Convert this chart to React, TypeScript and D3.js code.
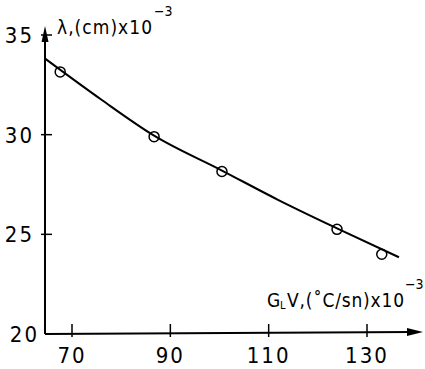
import React from 'react';
import * as d3 from 'd3';

// measured points (G_L V x 10^-3, lambda x 10^-3 cm)
const pointsX = [67.6, 86.7, 100.5, 123.9, 133.0];
const pointsY = [33.15, 29.9, 28.15, 25.25, 24.0];

// fitted curve
const curveX = [64.6, 76, 86.7, 100.5, 112, 123.9, 136.5];
const curveY = [33.8, 31.75, 29.95, 28.2, 26.72, 25.3, 23.85];

const xTicks = [70, 90, 110, 130];
const yTicks = [20, 25, 30, 35];

const font = "'Liberation Sans Narrow', 'DejaVu Sans Condensed', sans-serif";

export default function App() {
  const width = 425;
  const height = 369;

  const x = d3.scaleLinear().domain([70, 130]).range([72, 367]);
  const y = d3.scaleLinear().domain([20, 35]).range([334, 35]);

  const x0 = 45; // y axis position
  const y0 = y(20); // x axis position

  const line = d3.line<[number, number]>()
    .x(d => x(d[0]))
    .y(d => y(d[1]))
    .curve(d3.curveMonotoneX);

  const curve = curveX.map((v, i) => [v, curveY[i]] as [number, number]);

  return (
    <svg width={width} height={height} style={{ position: 'absolute', left: 0, top: 0, background: '#fff' }}>
      {/* axes */}
      <line x1={x0} y1={y0} x2={x0} y2={36} stroke="#000" strokeWidth={2} />
      <path d={`M${x0},26 L${x0 - 3.5},42 L${x0 + 3.5},42 Z`} fill="#000" />
      <line x1={x0} y1={y0} x2={412} y2={y0 - 2} stroke="#000" strokeWidth={2} />
      <path d={`M423,${y0 - 2} L407,${y0 - 6} L407,${y0 + 2} Z`} fill="#000" />

      {/* y ticks */}
      {yTicks.map(t => (
        <g key={t}>
          {t !== 20 && <line x1={x0 - 4} x2={x0 + 7} y1={y(t)} y2={y(t)} stroke="#000" strokeWidth={1.5} />}
          <text x={t === 20 ? 39 : 34} y={y(t) + 8} textAnchor="end" fontFamily={font} fontSize={22} letterSpacing={2}>{t}</text>
        </g>
      ))}

      {/* x ticks */}
      {xTicks.map(t => (
        <g key={t}>
          <line x1={x(t)} x2={x(t)} y1={y0 - 10} y2={y0 + 3} stroke="#000" strokeWidth={1.5} />
          <text x={x(t)} y={363} textAnchor="middle" fontFamily={font} fontSize={22} letterSpacing={2}>{t}</text>
        </g>
      ))}

      {/* axis titles */}
      <text x={57} y={34} fontFamily={font} fontSize={19} textLength={95} lengthAdjust="spacing">λ,(cm)x10</text>
      <text x={154} y={16} fontFamily={font} fontSize={14}>−3</text>

      <text x={267} y={307} fontFamily={font} fontSize={19}>G</text>
      <text x={280} y={309} fontFamily={font} fontSize={11}>L</text>
      <text x={287} y={307} fontFamily={font} fontSize={19} textLength={117} lengthAdjust="spacing">V,(˚C/sn)x10</text>
      <text x={405} y={289} fontFamily={font} fontSize={14}>−3</text>

      {/* fitted curve */}
      <path d={line(curve) ?? ''} fill="none" stroke="#000" strokeWidth={2} />

      {/* data points */}
      {pointsX.map((v, i) => (
        <circle key={i} cx={x(v)} cy={y(pointsY[i])} r={5} fill="none" stroke="#000" strokeWidth={1.5} />
      ))}
    </svg>
  );
}
